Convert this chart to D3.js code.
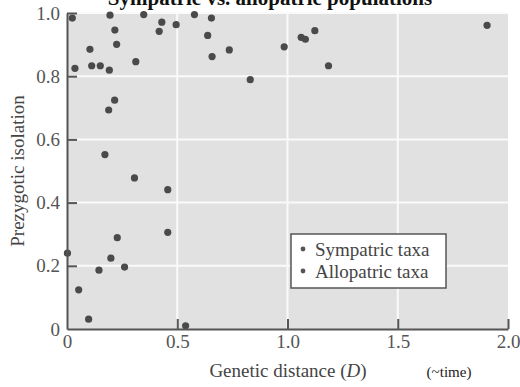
<!DOCTYPE html>
<html>
<head>
<meta charset="utf-8">
<script src="https://cdn.jsdelivr.net/npm/d3@7"></script>
<style>
  body { margin: 0; background: #fff; }
  svg { display: block; }
  text { font-family: "Liberation Serif", "DejaVu Serif", serif; }
</style>
</head>
<body>
<div id="chart"></div>
<script>
// genetic distance D, prezygotic isolation
const sympatric = [
  [0.024, 0.984], [0.195, 0.993], [0.348, 0.995], [0.43, 0.971], [0.418, 0.942],
  [0.495, 0.963], [0.217, 0.946], [0.225, 0.901], [0.104, 0.885], [0.312, 0.846],
  [0.036, 0.825], [0.112, 0.833], [0.151, 0.833], [0.192, 0.819], [0.216, 0.724],
  [0.189, 0.693], [0.172, 0.552], [0.306, 0.478], [0.457, 0.441]
];
const allopatric = [
  [0.578, 0.995], [0.655, 0.984], [0.638, 0.929], [0.658, 0.862], [0.736, 0.883],
  [0.831, 0.789], [0.985, 0.893], [1.062, 0.923], [1.081, 0.917], [1.124, 0.944],
  [1.186, 0.833], [1.905, 0.961], [0.002, 0.240], [0.228, 0.289], [0.457, 0.306],
  [0.199, 0.224], [0.261, 0.196], [0.145, 0.186], [0.053, 0.124], [0.098, 0.031],
  [0.538, 0.010]
];
const xTicks = [0, 0.5, 1.0, 1.5, 2.0];
const yTicks = [0, 0.2, 0.4, 0.6, 0.8, 1.0];
const legendLabels = ['Sympatric taxa', 'Allopatric taxa'];

const width = 520, height = 387;
const mLeft = 67, mRight = 508, mTop = 13, mBottom = 329;

const x = d3.scaleLinear().domain([0, 2]).range([mLeft, mRight]);
const y = d3.scaleLinear().domain([0, 1]).range([mBottom, mTop]);
const fmt = d => d === 0 ? '0' : d3.format('.1f')(d);

const svg = d3.select('#chart').append('svg')
  .attr('width', width)
  .attr('height', height);

// title, mostly cut off at the top edge
svg.append('text')
  .attr('x', 270)
  .attr('y', 5)
  .attr('text-anchor', 'middle')
  .attr('font-size', 21)
  .attr('font-weight', 'bold')
  .attr('fill', '#111')
  .text('Sympatric vs. allopatric populations');

// plot background
svg.append('rect')
  .attr('x', mLeft).attr('y', mTop)
  .attr('width', mRight - mLeft).attr('height', mBottom - mTop)
  .attr('fill', '#e1e1e1');

// grid
svg.append('g')
  .selectAll('line')
  .data(yTicks.filter(d => d > 0))
  .join('line')
  .attr('x1', mLeft).attr('x2', mRight)
  .attr('y1', d => y(d)).attr('y2', d => y(d))
  .attr('stroke', '#fafafa').attr('stroke-width', 2);

svg.append('g')
  .selectAll('line')
  .data(xTicks.filter(d => d > 0 && d < 2))
  .join('line')
  .attr('y1', mTop).attr('y2', mBottom)
  .attr('x1', d => x(d)).attr('x2', d => x(d))
  .attr('stroke', '#fafafa').attr('stroke-width', 2);

// points
const allPts = sympatric.concat(allopatric);
svg.append('g')
  .selectAll('circle')
  .data(allPts)
  .join('circle')
  .attr('cx', d => x(d[0]))
  .attr('cy', d => y(d[1]))
  .attr('r', 3.6)
  .attr('fill', '#4a4a4a');

// axes, ticks pointing inward
const yAxis = d3.axisLeft(y)
  .tickValues(yTicks)
  .tickFormat(fmt)
  .tickSizeInner(-10)
  .tickSizeOuter(0)
  .tickPadding(7);

const xAxis = d3.axisBottom(x)
  .tickValues(xTicks)
  .tickFormat(fmt)
  .tickSizeInner(-10)
  .tickSizeOuter(0)
  .tickPadding(6);

const styleAxis = g => {
  g.select('.domain').attr('stroke', '#555').attr('stroke-width', 2);
  g.selectAll('.tick line').attr('stroke', '#555').attr('stroke-width', 2);
  g.selectAll('.tick text')
    .attr('fill', '#555')
    .attr('font-size', 19)
    .attr('font-family', '"Liberation Serif", serif');
};

svg.append('g')
  .attr('transform', `translate(0,${mBottom})`)
  .call(xAxis)
  .call(styleAxis)
  .call(g => g.selectAll('.tick').filter(d => d === 0).select('line').remove());

svg.append('g')
  .attr('transform', `translate(${mLeft},0)`)
  .call(yAxis)
  .call(styleAxis)
  .call(g => g.selectAll('.tick').filter(d => d === 0).select('line').remove());

// axis titles
svg.append('text')
  .attr('transform', `translate(24,${(mTop + mBottom) / 2}) rotate(-90)`)
  .attr('text-anchor', 'middle')
  .attr('font-size', 19)
  .attr('fill', '#444')
  .text('Prezygotic isolation');

const xl = svg.append('text')
  .attr('x', 288)
  .attr('y', 377)
  .attr('text-anchor', 'middle')
  .attr('font-size', 19)
  .attr('fill', '#444');
xl.append('tspan').text('Genetic distance (');
xl.append('tspan').attr('font-style', 'italic').text('D');
xl.append('tspan').text(')');

svg.append('text')
  .attr('x', 449)
  .attr('y', 377)
  .attr('text-anchor', 'middle')
  .attr('font-size', 15)
  .attr('fill', '#222')
  .text('(~time)');

// legend
const legend = svg.append('g').attr('transform', 'translate(291,234)');
legend.append('rect')
  .attr('width', 155).attr('height', 54)
  .attr('fill', '#fff')
  .attr('stroke', '#555')
  .attr('stroke-width', 1.5);

const items = legend.selectAll('g.item')
  .data(legendLabels)
  .join('g')
  .attr('class', 'item')
  .attr('transform', (d, i) => `translate(0,${15 + i * 22})`);

items.append('circle')
  .attr('cx', 12).attr('cy', 0).attr('r', 2.4)
  .attr('fill', '#555');

items.append('text')
  .attr('x', 24).attr('y', 7)
  .attr('font-size', 19)
  .attr('fill', '#444')
  .text(d => d);
</script>
</body>
</html>
